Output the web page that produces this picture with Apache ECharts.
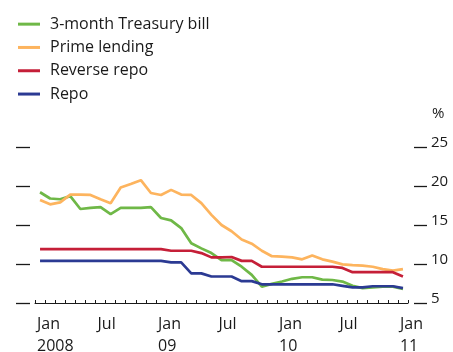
<!DOCTYPE html>
<html>
<head>
    <meta charset="UTF-8" />
    <title>Interest rates</title>
    <script src="https://cdn.jsdelivr.net/npm/echarts@6/dist/echarts.min.js"></script>
    <style>
        html, body { margin: 0; padding: 0; background: #fff; }
        #main { width: 453px; height: 352px; }
    </style>
</head>
<body>
<div id="main"></div>
<script type="text/javascript">
    // monthly, Jan 2008 .. Jan 2011
    var months = [];
    for (var y = 2008; y <= 2011; y++) {
        for (var m = 1; m <= 12; m++) {
            if (y == 2011 && m > 1) break;
            months.push(y + '-' + (m < 10 ? '0' + m : m));
        }
    }
    var tickLabels = ['Jan\n2008', 'Jul', 'Jan\n09', 'Jul', 'Jan\n10', 'Jul', 'Jan\n11'];
    var yTicks = [5, 10, 15, 20, 25];

    var tbill = [19.2, 18.4, 18.3, 18.7, 17.05, 17.2, 17.3, 16.4, 17.2, 17.2, 17.2, 17.3,
        15.9, 15.6, 14.6, 12.65, 12.0, 11.4, 10.5, 10.5, 9.65, 8.6, 7.1, 7.45,
        7.75, 8.1, 8.3, 8.3, 8.0, 7.95, 7.75, 7.2, 6.9, 7.0, 7.1, 7.1,
        6.8];
    var prime = [18.2, 17.65, 17.9, 18.9, 18.9, 18.85, 18.3, 17.8, 19.8, 20.25, 20.75, 19.1,
        18.85, 19.5, 18.9, 18.85, 17.8, 16.3, 15.0, 14.2, 13.15, 12.6, 11.7, 11.0,
        10.95, 10.85, 10.6, 11.1, 10.6, 10.3, 9.95, 9.85, 9.8, 9.65, 9.35, 9.15,
        9.35];
    var reverseRepo = [11.9, 11.9, 11.9, 11.9, 11.9, 11.9, 11.9, 11.9, 11.9, 11.9, 11.9, 11.9,
        11.9, 11.7, 11.7, 11.7, 11.4, 10.85, 10.85, 10.9, 10.4, 10.4, 9.65, 9.65,
        9.65, 9.65, 9.65, 9.65, 9.65, 9.65, 9.5, 8.95, 8.95, 8.95, 8.95, 8.95,
        8.4];
    var repo = [10.4, 10.4, 10.4, 10.4, 10.4, 10.4, 10.4, 10.4, 10.4, 10.4, 10.4, 10.4,
        10.4, 10.2, 10.2, 8.8, 8.8, 8.4, 8.4, 8.4, 7.8, 7.8, 7.4, 7.4,
        7.4, 7.4, 7.4, 7.4, 7.4, 7.4, 7.2, 7.0, 7.0, 7.15, 7.15, 7.15,
        6.9];

    var font = '"Open Sans", "Noto Sans", sans-serif';

    function line(name, data, color) {
        return {
            name: name,
            type: 'line',
            data: data,
            symbol: 'none',
            lineStyle: { width: 2.7, color: color },
            itemStyle: { color: color },
            animation: false
        };
    }

    var myChart = echarts.init(document.getElementById('main'));
    var option = {
        animation: false,
        textStyle: { fontFamily: font },
        legend: {
            orient: 'vertical',
            left: 18,
            top: 15,
            padding: 0,
            icon: 'rect',
            itemWidth: 22,
            itemHeight: 3,
            itemGap: 5,
            textStyle: { fontSize: 16, lineHeight: 18.3, color: '#1a1a1a', fontFamily: font, padding: [0, 0, 0, 5] },
            data: ['3-month Treasury bill', 'Prime lending', 'Reverse repo', 'Repo']
        },
        grid: { left: 35, right: 45, top: 147, bottom: 49, outerBoundsMode: 'none', containLabel: false },
        xAxis: {
            type: 'category',
            data: months,
            boundaryGap: true,
            axisLine: { show: true, lineStyle: { color: '#1a1a1a', width: 1 } },
            axisTick: { show: true, inside: true, length: 3, interval: 0, lineStyle: { color: '#1a1a1a' } },
            axisLabel: {
                interval: 5,
                align: 'left',
                margin: 10,
                fontSize: 16,
                lineHeight: 22,
                color: '#1a1a1a',
                fontFamily: font,
                padding: [0, 0, 0, -3],
                formatter: function (v, i) { return tickLabels[i / 6]; }
            },
            splitLine: { show: false }
        },
        yAxis: [{
            type: 'value',
            position: 'left',
            min: 5, max: 25, interval: 5,
            offset: 5,
            axisLine: { show: false },
            axisTick: { show: true, length: 14, lineStyle: { color: '#1a1a1a', width: 1.3 } },
            axisLabel: { show: false },
            splitLine: { show: false }
        }, {
            type: 'value',
            position: 'right',
            min: 5, max: 25, interval: 5,
            offset: 6,
            name: '%',
            nameLocation: 'end',
            nameGap: 26,
            nameTextStyle: { fontSize: 15, color: '#1a1a1a', fontFamily: font, align: 'left', padding: [0, 0, 0, 18] },
            axisLine: { show: false },
            axisTick: { show: true, length: 13, lineStyle: { color: '#1a1a1a', width: 1.3 } },
            axisLabel: {
                margin: 17,
                fontSize: 15,
                color: '#1a1a1a',
                fontFamily: font,
                verticalAlign: 'bottom',
                lineHeight: 8,
                formatter: function (v) { return yTicks.indexOf(v) >= 0 ? String(v) : ''; }
            },
            splitLine: { show: false }
        }],
        series: [
            line('3-month Treasury bill', tbill, '#6fb847'),
            line('Prime lending', prime, '#fdb45e'),
            line('Reverse repo', reverseRepo, '#c51f38'),
            line('Repo', repo, '#2b3a93')
        ]
    };
    myChart.setOption(option);
</script>
</body>
</html>
